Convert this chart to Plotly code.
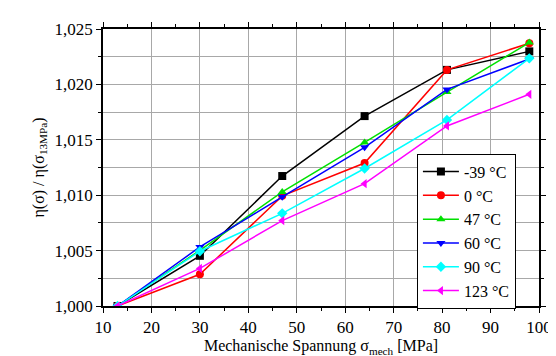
import plotly.graph_objects as go

x_vals = [13, 30, 47, 64, 81, 98]
series_names = ["-39 °C", "0 °C", "47 °C", "60 °C", "90 °C", "123 °C"]
y_m39 = [1.0000, 1.00453, 1.01173, 1.01714, 1.02131, 1.02298]
y_0 = [1.0000, 1.00286, 1.00994, 1.01290, 1.02131, 1.02372]
y_47 = [1.0000, 1.00503, 1.01030, 1.01476, 1.01931, 1.02378]
y_60 = [1.0000, 1.00533, 1.00985, 1.01432, 1.01955, 1.02229]
y_90 = [1.0000, 1.00494, 1.00836, 1.01241, 1.01679, 1.02235]
y_123 = [1.0000, 1.00339, 1.00771, 1.01104, 1.01625, 1.01911]
colors = ["#000000", "#ff0000", "#00e000", "#0000ff", "#00ffff", "#ff00ff"]
symbols = ["square", "circle", "triangle-up", "triangle-down", "diamond", "triangle-left"]

fig = go.Figure()
for name, ys, c, s in zip(series_names, [y_m39, y_0, y_47, y_60, y_90, y_123], colors, symbols):
    fig.add_trace(go.Scatter(x=x_vals, y=ys, name=name, mode="lines+markers",
                             line=dict(color=c, width=1.5),
                             marker=dict(color=c, symbol=s, size=8)))

font = "Liberation Serif"
tf = dict(family=font, size=17, color="black")
fig.update_layout(
    width=556, height=356,
    margin=dict(l=95, r=21, t=18, b=58),
    paper_bgcolor="white", plot_bgcolor="white",
    separators=",.",
    font=dict(family=font, size=15, color="black"),
    legend=dict(x=0.72, y=0.55, xanchor="left", yanchor="top",
                bordercolor="black", borderwidth=1, bgcolor="white",
                font=dict(size=16, family=font), tracegroupgap=0,
                itemwidth=36),
    xaxis=dict(range=[10, 100], dtick=10, tick0=10, tickfont=tf,
               showline=True, linecolor="black", linewidth=1.5, mirror="ticks",
               ticks="outside", ticklen=5, tickcolor="black",
               showgrid=True, gridcolor="#a8a8a8", gridwidth=1,
               minor=dict(dtick=5, ticks="outside", ticklen=3, tickcolor="black", showgrid=False),
               zeroline=False,
               title=dict(text="Mechanische Spannung σ<sub>mech</sub> [MPa]", standoff=3,
                          font=dict(size=16, family=font))),
    yaxis=dict(range=[1.0, 1.025], dtick=0.005, tick0=1.0, tickformat=".3f", tickfont=tf,
               showline=True, linecolor="black", linewidth=1.5, mirror="ticks",
               ticks="outside", ticklen=5, tickcolor="black",
               showgrid=True, gridcolor="#a8a8a8", gridwidth=1,
               minor=dict(dtick=0.0025, ticks="outside", ticklen=3, tickcolor="black",
                          showgrid=True, gridcolor="#a8a8a8", gridwidth=1),
               zeroline=False,
               title=dict(text="η(σ) / η(σ<sub>13MPa</sub>)", standoff=6,
                          font=dict(size=16, family=font))),
)
fig.write_html("out.html")
